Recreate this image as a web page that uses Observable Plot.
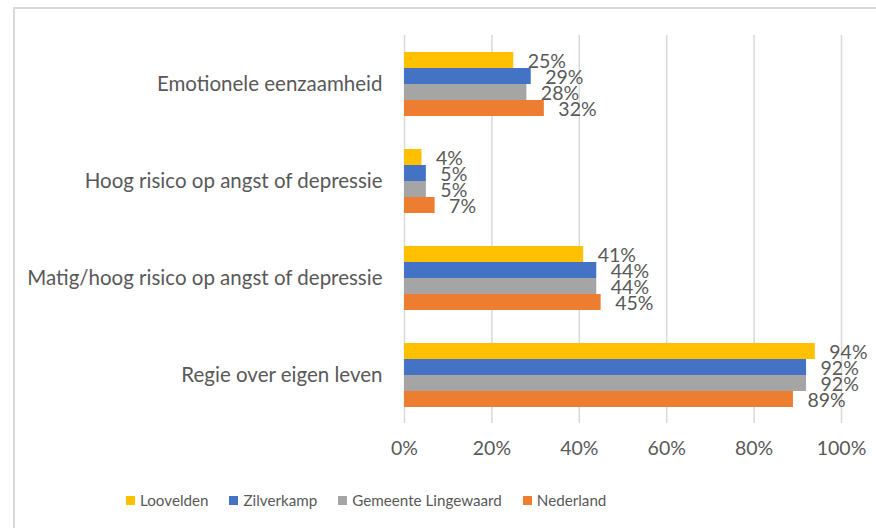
<!DOCTYPE html>
<html><head><meta charset="utf-8">
<script src="https://cdn.jsdelivr.net/npm/d3@7"></script>
<script src="https://cdn.jsdelivr.net/npm/@observablehq/plot@0.6"></script>
<style>
html,body{margin:0;padding:0;background:#fff;}
body{width:876px;height:528px;overflow:hidden;position:relative;font-family:Lato,"Open Sans",sans-serif;}
#frame{position:absolute;left:13px;top:7px;width:900px;height:560px;border-left:2px solid #d9d9d9;border-top:2px solid #d9d9d9;}
#chart{position:absolute;left:0;top:0;}
#legend{position:absolute;top:491px;left:126px;display:flex;align-items:center;font-size:15.2px;color:#595959;white-space:nowrap;}
#legend .item{display:flex;align-items:center;margin-right:21px;}
#legend .sw{width:9px;height:9px;margin-right:5px;}
</style></head>
<body>
<div id="frame"></div>
<div id="chart"></div>
<div id="legend"></div>
<script>
const categories = ["Emotionele eenzaamheid","Hoog risico op angst of depressie","Matig/hoog risico op angst of depressie","Regie over eigen leven"];
const series = ["Loovelden","Zilverkamp","Gemeente Lingewaard","Nederland"];
const colors = ["#ffc000","#4472c4","#a5a5a5","#ed7d31"];
const loovelden = [25,4,41,94];
const zilverkamp = [29,5,44,92];
const lingewaard = [28,5,44,92];
const nederland = [32,7,45,89];
const xTicks = [0,20,40,60,80,100];

const seriesValues = [loovelden, zilverkamp, lingewaard, nederland];
const data = [];
categories.forEach((c,i)=>series.forEach((s,j)=>data.push({category:c, series:s, value:seriesValues[j][i]})));

const chart = Plot.plot({
  width:876, height:470,
  marginLeft:404, marginRight:35, marginTop:35, marginBottom:47,
  style:{fontFamily:"Lato, 'Open Sans', sans-serif", color:"#595959", background:"transparent"},
  x:{domain:[0,100], label:null},
  fy:{domain:categories, padding:0, label:null},
  y:{domain:series, paddingInner:0, paddingOuter:0.853, axis:null},
  color:{domain:series, range:colors},
  marks:[
    Plot.gridX(xTicks, {stroke:"#d9d9d9", strokeOpacity:1, strokeWidth:1.5}),
    Plot.barX(data, {x:"value", y:"series", fy:"category", fill:"series"}),
    Plot.text(data, {x:"value", y:"series", fy:"category", text:d=>d.value+"%", textAnchor:"start", dx:14, dy:1, fill:"#595959", fontSize:19.5}),
    Plot.axisX({ticks:xTicks, tickFormat:d=>d+"%", tickSize:0, tickPadding:18, fontSize:19.5, fill:"#595959", label:null}),
    Plot.axisFy({anchor:"left", tickSize:0, tickPadding:22, fontSize:20.5, fill:"#595959", label:null})
  ]
});
document.getElementById("chart").appendChild(chart);

const legend = document.getElementById("legend");
series.forEach((s,i)=>{
  const it = document.createElement("div"); it.className="item";
  const sw = document.createElement("div"); sw.className="sw"; sw.style.background=colors[i];
  const t = document.createElement("span"); t.textContent=s;
  it.appendChild(sw); it.appendChild(t); legend.appendChild(it);
});
</script>
</body></html>
